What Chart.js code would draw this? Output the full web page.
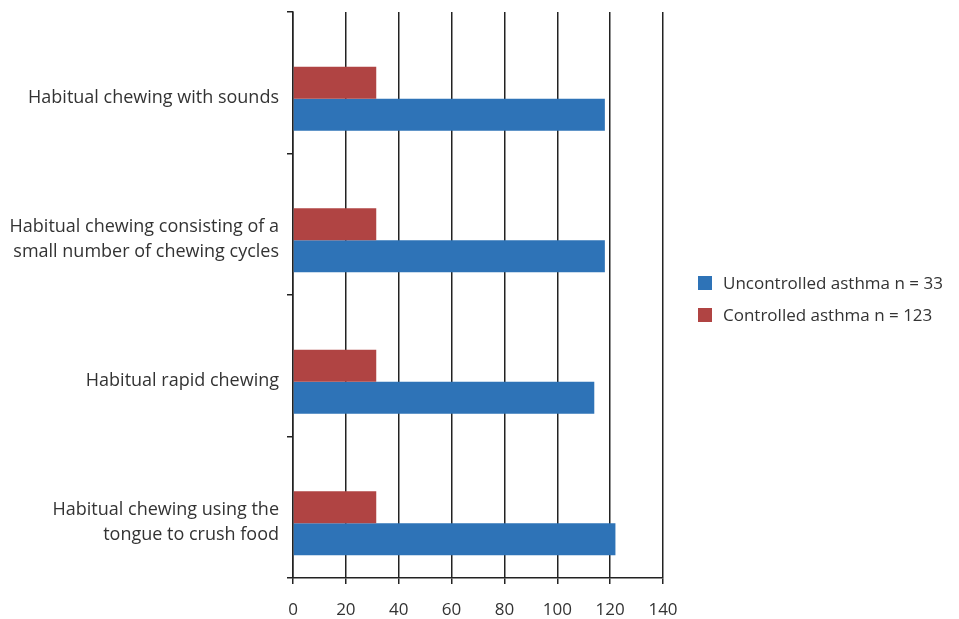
<!DOCTYPE html>
<html>
<head>
<meta charset="utf-8">
<script src="https://cdn.jsdelivr.net/npm/chart.js@4.4.1/dist/chart.umd.min.js"></script>
<style>
  html, body { margin: 0; padding: 0; background: #ffffff; }
  #wrap { position: relative; width: 959px; height: 619px; }
</style>
</head>
<body>
<div id="wrap"><canvas id="c" width="959" height="619"></canvas></div>
<script>
const categories = [
  "Habitual chewing with sounds",
  ["Habitual chewing consisting of a", "small number of chewing cycles"],
  "Habitual rapid chewing",
  ["Habitual chewing using the", "tongue to crush food"]
];
const seriesNames = ["", "Controlled asthma n = 123", "Uncontrolled asthma n = 33"];
const spacerValues = [null, null, null, null];
const controlledValues = [31.5, 31.5, 31.5, 31.5];
const uncontrolledValues = [118, 118, 114, 122];
const xTicks = [0, 20, 40, 60, 80, 100, 120, 140];

const FONT = "'Open Sans', sans-serif";
const BLUE = "rgb(46,115,183)";
const RED = "rgb(176,68,67)";
const TEXT = "#333333";

// Legend drawn to the right of the plot (blue series first, then red)
const sideLegend = {
  id: 'sideLegend',
  afterDraw(chart, args, opts) {
    const ctx = chart.ctx;
    ctx.save();
    ctx.font = opts.fontSize + "px " + FONT;
    ctx.textBaseline = 'middle';
    ctx.textAlign = 'left';
    opts.order.forEach((di, i) => {
      const ds = chart.data.datasets[di];
      const cy = opts.y + i * opts.spacing;
      ctx.fillStyle = ds.backgroundColor;
      ctx.fillRect(opts.x, cy - opts.box / 2, opts.box, opts.box);
      ctx.fillStyle = TEXT;
      ctx.fillText(ds.label, opts.x + opts.box + opts.gap, cy + 1);
    });
    ctx.restore();
  }
};

function build() {
  new Chart(document.getElementById('c'), {
    type: 'bar',
    data: {
      labels: categories,
      datasets: [
        { label: seriesNames[0], data: spacerValues, backgroundColor: 'rgba(0,0,0,0)' },
        { label: seriesNames[1], data: controlledValues, backgroundColor: RED },
        { label: seriesNames[2], data: uncontrolledValues, backgroundColor: BLUE }
      ]
    },
    plugins: [sideLegend],
    options: {
      responsive: false,
      animation: false,
      indexAxis: 'y',
      datasets: { bar: { barPercentage: 1, categoryPercentage: 0.68 } },
      layout: { padding: { top: 12, left: 0, right: 296, bottom: 0 } },
      plugins: {
        tooltip: { enabled: false },
        legend: { display: false },
        sideLegend: { x: 698, y: 283, spacing: 32, box: 14, gap: 11, fontSize: 17, order: [2, 1] }
      },
      scales: {
        x: {
          min: 0,
          max: 140,
          afterBuildTicks: (s) => { s.ticks = xTicks.map(v => ({ value: v })); },
          afterFit: (s) => { s.height = 41; s.paddingRight = 0; },
          grid: { color: '#222222', lineWidth: 1.5, tickLength: 6, drawOnChartArea: true },
          border: { color: '#222222', width: 1.5 },
          ticks: { color: TEXT, font: { family: FONT, size: 17 }, padding: 16, maxRotation: 0 }
        },
        y: {
          afterFit: (s) => { s.width = 293; s.paddingTop = 0; s.paddingBottom = 0; },
          grid: { offset: true, drawOnChartArea: false, color: '#222222', lineWidth: 1.5, tickLength: 6 },
          border: { color: '#222222', width: 1.5 },
          ticks: {
            color: TEXT,
            font: { family: FONT, size: 18, lineHeight: 1.39 },
            padding: 8,
            labelOffset: 15
          }
        }
      }
    }
  });
}

if (document.fonts && document.fonts.load) {
  Promise.all([
    document.fonts.load("17px 'Open Sans'"),
    document.fonts.load("18px 'Open Sans'")
  ]).then(build, build);
} else {
  build();
}
</script>
</body>
</html>
